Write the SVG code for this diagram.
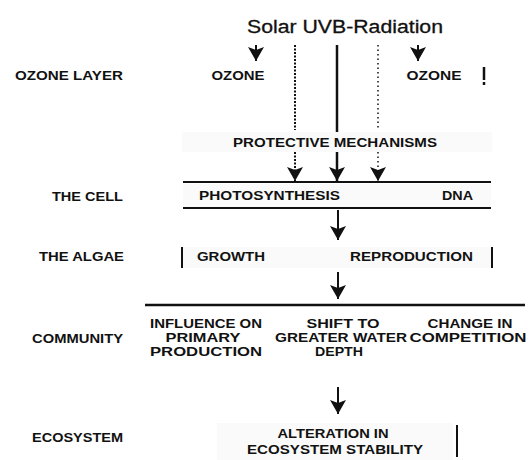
<svg xmlns="http://www.w3.org/2000/svg" width="530" height="460" viewBox="0 0 530 460">
<style>
  .lbl{font-family:"Liberation Sans",Arial,sans-serif;font-weight:bold;font-size:12px;fill:#111}
  .big{font-size:13px}
  .lbl-l{text-anchor:end}
  .mid{text-anchor:middle}
  .band{fill:#fafafa}
  .ln{stroke:#111;fill:none}
</style>
<defs>
  <marker id="ah" viewBox="0 0 14 16" refX="14" refY="8" markerWidth="14" markerHeight="16" markerUnits="userSpaceOnUse" orient="auto">
    <path d="M0,0 L14,8 L0,16 L3,8 z" fill="#111"/>
  </marker>
</defs>
<rect width="530" height="460" fill="#fff"/>
<g id="bands">
  <rect class="band" x="182" y="132" width="310" height="20"/>
  <rect class="band" x="183" y="184" width="308" height="23"/>
  <rect class="band" x="183" y="247" width="309" height="21"/>
  <rect class="band" x="217" y="423" width="236" height="37"/>
</g>
<g id="title">
  <text x="345" y="33" text-anchor="middle" font-family="Liberation Sans, Arial, sans-serif" font-size="18" fill="#111" stroke="#111" stroke-width="0.3" textLength="196" lengthAdjust="spacingAndGlyphs">Solar UVB-Radiation</text>
</g>
<g id="labels">
  <text class="lbl lbl-l" x="123" y="80" textLength="108" lengthAdjust="spacingAndGlyphs">OZONE LAYER</text>
  <text class="lbl lbl-l" x="123" y="201" textLength="71" lengthAdjust="spacingAndGlyphs">THE CELL</text>
  <text class="lbl lbl-l" x="124" y="261" textLength="85" lengthAdjust="spacingAndGlyphs">THE ALGAE</text>
  <text class="lbl lbl-l" x="123" y="343" textLength="91" lengthAdjust="spacingAndGlyphs">COMMUNITY</text>
  <text class="lbl lbl-l" x="123" y="442" textLength="91" lengthAdjust="spacingAndGlyphs">ECOSYSTEM</text>
</g>
<g id="ozone">
  <text class="lbl mid" x="238" y="80" textLength="53" lengthAdjust="spacingAndGlyphs">OZONE</text>
  <text class="lbl mid" x="434" y="80" textLength="55" lengthAdjust="spacingAndGlyphs">OZONE</text>
  <line class="ln" x1="484" y1="67" x2="484" y2="80" stroke-width="2.5"/>
  <line class="ln" x1="484" y1="82" x2="484" y2="85" stroke-width="2.5"/>
</g>
<g id="protective">
  <text class="lbl mid" x="335" y="147" textLength="204" lengthAdjust="spacingAndGlyphs">PROTECTIVE MECHANISMS</text>
</g>
<g id="cell">
  <line class="ln" x1="183" y1="182" x2="491" y2="182" stroke-width="2"/>
  <line class="ln" x1="183" y1="208" x2="491" y2="208" stroke-width="2"/>
  <text class="lbl" x="199" y="200" textLength="141" lengthAdjust="spacingAndGlyphs">PHOTOSYNTHESIS</text>
  <text class="lbl" x="442" y="200" textLength="31" lengthAdjust="spacingAndGlyphs">DNA</text>
</g>
<g id="algae">
  <line class="ln" x1="182" y1="247" x2="182" y2="268" stroke-width="2"/>
  <line class="ln" x1="492" y1="247" x2="492" y2="268" stroke-width="2"/>
  <text class="lbl" x="197" y="261" textLength="68" lengthAdjust="spacingAndGlyphs">GROWTH</text>
  <text class="lbl" x="350" y="261" textLength="123" lengthAdjust="spacingAndGlyphs">REPRODUCTION</text>
</g>
<g id="community">
  <line class="ln" x1="145" y1="305" x2="525" y2="305" stroke-width="2.5"/>
  <text class="lbl big mid" x="206" y="328" textLength="112" lengthAdjust="spacingAndGlyphs">INFLUENCE ON</text>
  <text class="lbl big mid" x="203" y="342" textLength="75" lengthAdjust="spacingAndGlyphs">PRIMARY</text>
  <text class="lbl big mid" x="206" y="356" textLength="112" lengthAdjust="spacingAndGlyphs">PRODUCTION</text>
  <text class="lbl big mid" x="343" y="328" textLength="73" lengthAdjust="spacingAndGlyphs">SHIFT TO</text>
  <text class="lbl big mid" x="341" y="342" textLength="132" lengthAdjust="spacingAndGlyphs">GREATER WATER</text>
  <text class="lbl big mid" x="339" y="356" textLength="48" lengthAdjust="spacingAndGlyphs">DEPTH</text>
  <text class="lbl big mid" x="470" y="328" textLength="85" lengthAdjust="spacingAndGlyphs">CHANGE IN</text>
  <text class="lbl big mid" x="468" y="342" textLength="117" lengthAdjust="spacingAndGlyphs">COMPETITION</text>
</g>
<g id="ecosystem">
  <line class="ln" x1="457" y1="425" x2="457" y2="457" stroke-width="2"/>
  <text class="lbl mid" x="333" y="438" textLength="111" lengthAdjust="spacingAndGlyphs">ALTERATION IN</text>
  <text class="lbl mid" x="335" y="454" textLength="176" lengthAdjust="spacingAndGlyphs">ECOSYSTEM STABILITY</text>
</g>
<g id="connectors">
  <line class="ln" x1="256" y1="45" x2="256" y2="61" stroke-width="2" marker-end="url(#ah)"/>
  <line class="ln" x1="418" y1="45" x2="418" y2="61" stroke-width="2" marker-end="url(#ah)"/>
  <line class="ln" x1="295" y1="45" x2="295" y2="130" stroke-width="2" stroke-dasharray="2 1.5"/>
  <line class="ln" x1="337" y1="45" x2="337" y2="132" stroke-width="2.5"/>
  <line class="ln" x1="378" y1="45" x2="378" y2="130" stroke-width="1.5" stroke-dasharray="1.5 3"/>
  <line class="ln" x1="295" y1="152" x2="295" y2="181" stroke-width="2" stroke-dasharray="2 1.5" marker-end="url(#ah)"/>
  <line class="ln" x1="337" y1="152" x2="337" y2="181" stroke-width="2.5" marker-end="url(#ah)"/>
  <line class="ln" x1="378" y1="152" x2="378" y2="181" stroke-width="1.5" stroke-dasharray="1.5 3" marker-end="url(#ah)"/>
  <line class="ln" x1="338" y1="210" x2="338" y2="240" stroke-width="2" marker-end="url(#ah)"/>
  <line class="ln" x1="338" y1="272" x2="338" y2="299" stroke-width="2" marker-end="url(#ah)"/>
  <line class="ln" x1="338" y1="387" x2="338" y2="414" stroke-width="2" marker-end="url(#ah)"/>
</g>
</svg>
